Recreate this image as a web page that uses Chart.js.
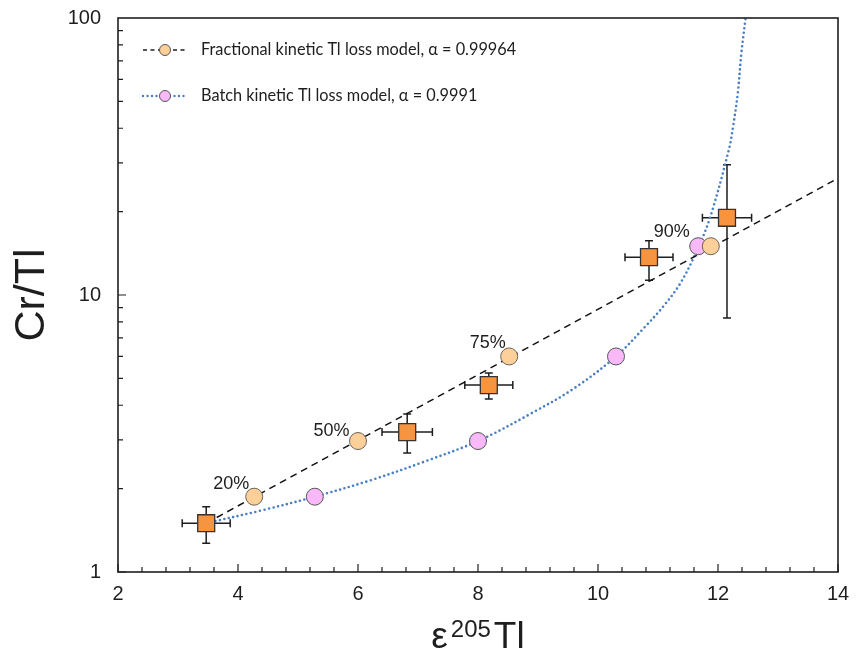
<!DOCTYPE html>
<html>
<head>
<meta charset="utf-8">
<script src="https://cdn.jsdelivr.net/npm/chart.js@4.4.1/dist/chart.umd.min.js"></script>
<style>
  html, body { margin: 0; padding: 0; background: #fff; }
  #chart { display: block; }
</style>
</head>
<body>
<canvas id="chart" width="862" height="652"></canvas>
<script>
'use strict';

// measured samples (squares) with error bars
const sampleX = [3.47, 6.82, 8.18, 10.85, 12.15];
const sampleY = [1.5, 3.2, 4.73, 13.7, 19.0];
const sampleXErr = [0.4, 0.42, 0.4, 0.4, 0.41];
const sampleYLow = [1.27, 2.69, 4.21, 11.3, 8.26];
const sampleYHigh = [1.72, 3.72, 5.23, 15.7, 29.5];

// model points (% Tl lost)
const pctLabels = ['20%', '50%', '75%', '90%'];
const fracX = [4.27, 6.0, 8.52, 11.88];
const fracY = [1.87, 2.97, 6.0, 15.0];
const batchX = [5.28, 8.0, 10.3, 11.67];
const batchY = [1.87, 2.97, 6.0, 15.0];

// model curves
const fracLineX = [3.47, 14];
const fracLineY = [1.5, 26.4];
const batchLineX = [3.47, 4.4, 5.28, 6.2, 7.1, 8.0, 8.9, 9.6, 10.3, 10.78, 11.08, 11.37, 11.65, 11.87, 12.18, 12.25, 12.33, 12.39, 12.46];
const batchLineY = [1.5, 1.67, 1.87, 2.14, 2.5, 2.97, 3.75, 4.6, 6.0, 7.66, 9.05, 11.0, 14.5, 19.1, 33.4, 40.4, 53.6, 74.8, 100];

const legendLabels = [
  'Fractional kinetic Tl loss model, \u03b1 = 0.99964',
  'Batch kinetic Tl loss model, \u03b1 = 0.9991'
];
const xTickLabels = [2, 4, 6, 8, 10, 12, 14];
const yTickLabels = [1, 10, 100];

const ORANGE = '#F7943F';
const PEACH = '#FDD09A';
const PINK = '#F9B9F9';
const BLUE = '#4A7EC2';
const INK = '#1e1e1e';
const FONT = '"Liberation Sans", Arial, sans-serif';

function pts(xs, ys) {
  let out = [];
  for (let i = 0; i < xs.length; i++) {
    out.push({x: xs[i], y: ys[i]});
  }
  return out;
}

// little nudges for the % labels (pixels)
const pctNudge = [[3.5, -8], [0, -5], [5, -8], [-12.5, -9]];

const decor = {
  id: 'decor',
  beforeDatasetsDraw(chart) {
    const c = chart.ctx;
    const xs = chart.scales.x;
    const ys = chart.scales.y;
    c.save();
    c.strokeStyle = INK;
    c.lineWidth = 1.5;
    for (let i = 0; i < sampleX.length; i++) {
      let cx = xs.getPixelForValue(sampleX[i]);
      let cy = ys.getPixelForValue(sampleY[i]);
      let x0 = xs.getPixelForValue(sampleX[i] - sampleXErr[i]);
      let x1 = xs.getPixelForValue(sampleX[i] + sampleXErr[i]);
      let y0 = ys.getPixelForValue(sampleYLow[i]);
      let y1 = ys.getPixelForValue(sampleYHigh[i]);
      c.beginPath();
      c.moveTo(x0, cy); c.lineTo(x1, cy);
      c.moveTo(x0, cy - 4); c.lineTo(x0, cy + 4);
      c.moveTo(x1, cy - 4); c.lineTo(x1, cy + 4);
      c.moveTo(cx, y0); c.lineTo(cx, y1);
      c.moveTo(cx - 4, y0); c.lineTo(cx + 4, y0);
      c.moveTo(cx - 4, y1); c.lineTo(cx + 4, y1);
      c.stroke();
    }
    c.restore();
  },
  afterDatasetsDraw(chart) {
    const c = chart.ctx;
    const a = chart.chartArea;
    const xs = chart.scales.x;
    const ys = chart.scales.y;
    c.save();

    // frame
    c.strokeStyle = INK;
    c.lineWidth = 1.6;
    c.strokeRect(a.left, a.top, a.right - a.left, a.bottom - a.top);

    // inward ticks
    c.lineWidth = 1.2;
    c.beginPath();
    for (let i = 0; i <= 30; i++) {
      let px = xs.getPixelForValue(2 + i * 0.4);
      let len = (i % 5 === 0) ? 8 : 5;
      c.moveTo(px, a.bottom); c.lineTo(px, a.bottom - len);
    }
    for (let d = 1; d <= 10; d *= 10) {
      for (let k = 1; k <= 9; k++) {
        let py = ys.getPixelForValue(k * d);
        let len = (k === 1) ? 8 : 5;
        c.moveTo(a.left, py); c.lineTo(a.left + len, py);
      }
    }
    c.stroke();

    // % labels
    c.fillStyle = INK;
    c.font = '18px ' + FONT;
    c.textAlign = 'right';
    c.textBaseline = 'alphabetic';
    for (let i = 0; i < pctLabels.length; i++) {
      let px = xs.getPixelForValue(fracX[i]) - 8.5 + pctNudge[i][0];
      let py = ys.getPixelForValue(fracY[i]) + pctNudge[i][1];
      c.fillText(pctLabels[i], px, py);
    }

    // x axis title: epsilon with superscript 205
    const parts = [['\u03b5', '37px ' + FONT, 0, 3], ['205', '24px ' + FONT, -11, 3], ['Tl', '37px ' + FONT, 0, 0]];
    let total = 0;
    for (const p of parts) { c.font = p[1]; total += c.measureText(p[0]).width + p[3]; }
    let tx = (a.left + a.right) / 2 - total / 2;
    c.textAlign = 'left';
    for (const p of parts) {
      c.font = p[1];
      c.fillText(p[0], tx, 648 + p[2]);
      tx += c.measureText(p[0]).width + p[3];
    }

    // legend
    const rows = [50, 96];
    const lx0 = 143, lx1 = 188, lcx = 165, ltx = 201;
    c.strokeStyle = INK;
    c.lineWidth = 1.3;
    c.setLineDash([4, 3.5]);
    c.beginPath(); c.moveTo(lx0, rows[0]); c.lineTo(lx1, rows[0]); c.stroke();
    c.strokeStyle = BLUE;
    c.lineWidth = 2.4;
    c.lineCap = 'round';
    c.setLineDash([0, 4.5]);
    c.beginPath(); c.moveTo(lx0, rows[1]); c.lineTo(lx1, rows[1]); c.stroke();
    c.setLineDash([]);
    c.lineCap = 'butt';
    c.lineWidth = 1;
    c.strokeStyle = '#555';
    c.fillStyle = PEACH;
    c.beginPath(); c.arc(lcx, rows[0], 5.5, 0, Math.PI * 2); c.fill(); c.stroke();
    c.fillStyle = PINK;
    c.beginPath(); c.arc(lcx, rows[1], 5.5, 0, Math.PI * 2); c.fill(); c.stroke();

    c.fillStyle = INK;
    c.textAlign = 'left';
    c.textBaseline = 'middle';
    c.font = '16.3px Lato, "Open Sans", sans-serif';
    c.fillText(legendLabels[0], ltx, rows[0]);
    c.fillText(legendLabels[1], ltx, rows[1]);
    c.restore();
  }
};

const ctx = document.getElementById('chart');

new Chart(ctx, {
  type: 'scatter',
  data: {
    datasets: [
      {
        label: 'samples',
        data: pts(sampleX, sampleY),
        pointStyle: 'rect',
        pointRadius: 12,
        backgroundColor: ORANGE,
        borderColor: '#333',
        borderWidth: 1.3
      },
      {
        label: legendLabels[0],
        data: pts(fracX, fracY),
        pointStyle: 'circle',
        pointRadius: 8.5,
        backgroundColor: PEACH,
        borderColor: '#6b6358',
        borderWidth: 1
      },
      {
        label: legendLabels[1],
        data: pts(batchX, batchY),
        pointStyle: 'circle',
        pointRadius: 8.5,
        backgroundColor: PINK,
        borderColor: '#555',
        borderWidth: 1
      },
      {
        label: 'fractional line',
        data: pts(fracLineX, fracLineY),
        showLine: true,
        pointRadius: 0,
        borderColor: '#111',
        borderWidth: 1.5,
        borderDash: [7, 5]
      },
      {
        label: 'batch line',
        data: pts(batchLineX, batchLineY),
        showLine: true,
        pointRadius: 0,
        borderColor: BLUE,
        borderWidth: 2.6,
        borderDash: [0, 4.6],
        borderCapStyle: 'round',
        tension: 0.35
      }
    ]
  },
  options: {
    responsive: false,
    animation: false,
    devicePixelRatio: 1,
    layout: { padding: { top: 18, right: 24, left: 0, bottom: 0 } },
    plugins: {
      legend: { display: false },
      tooltip: { enabled: false }
    },
    scales: {
      x: {
        type: 'linear',
        min: 2,
        max: 14,
        afterBuildTicks: (s) => { s.ticks = xTickLabels.map(v => ({value: v})); },
        afterFit: (s) => { s.height = 80; s.paddingLeft = 0; s.paddingRight = 0; },
        grid: { display: false, drawTicks: false },
        border: { display: false },
        ticks: {
          color: INK,
          padding: 10,
          maxRotation: 0,
          font: { family: FONT, size: 20 }
        }
      },
      y: {
        type: 'logarithmic',
        min: 1,
        max: 100,
        afterBuildTicks: (s) => { s.ticks = yTickLabels.map(v => ({value: v})); },
        afterFit: (s) => { s.width = 118; s.paddingTop = 0; s.paddingBottom = 0; },
        grid: { display: false, drawTicks: false },
        border: { display: false },
        ticks: {
          color: INK,
          padding: 17,
          autoSkip: false,
          callback: (v) => String(v),
          font: { family: FONT, size: 20 }
        },
        title: {
          display: true,
          text: 'Cr/Tl',
          color: INK,
          padding: { top: 6, bottom: 0 },
          font: { family: FONT, size: 43 }
        }
      }
    }
  },
  plugins: [decor]
});
</script>
</body>
</html>
